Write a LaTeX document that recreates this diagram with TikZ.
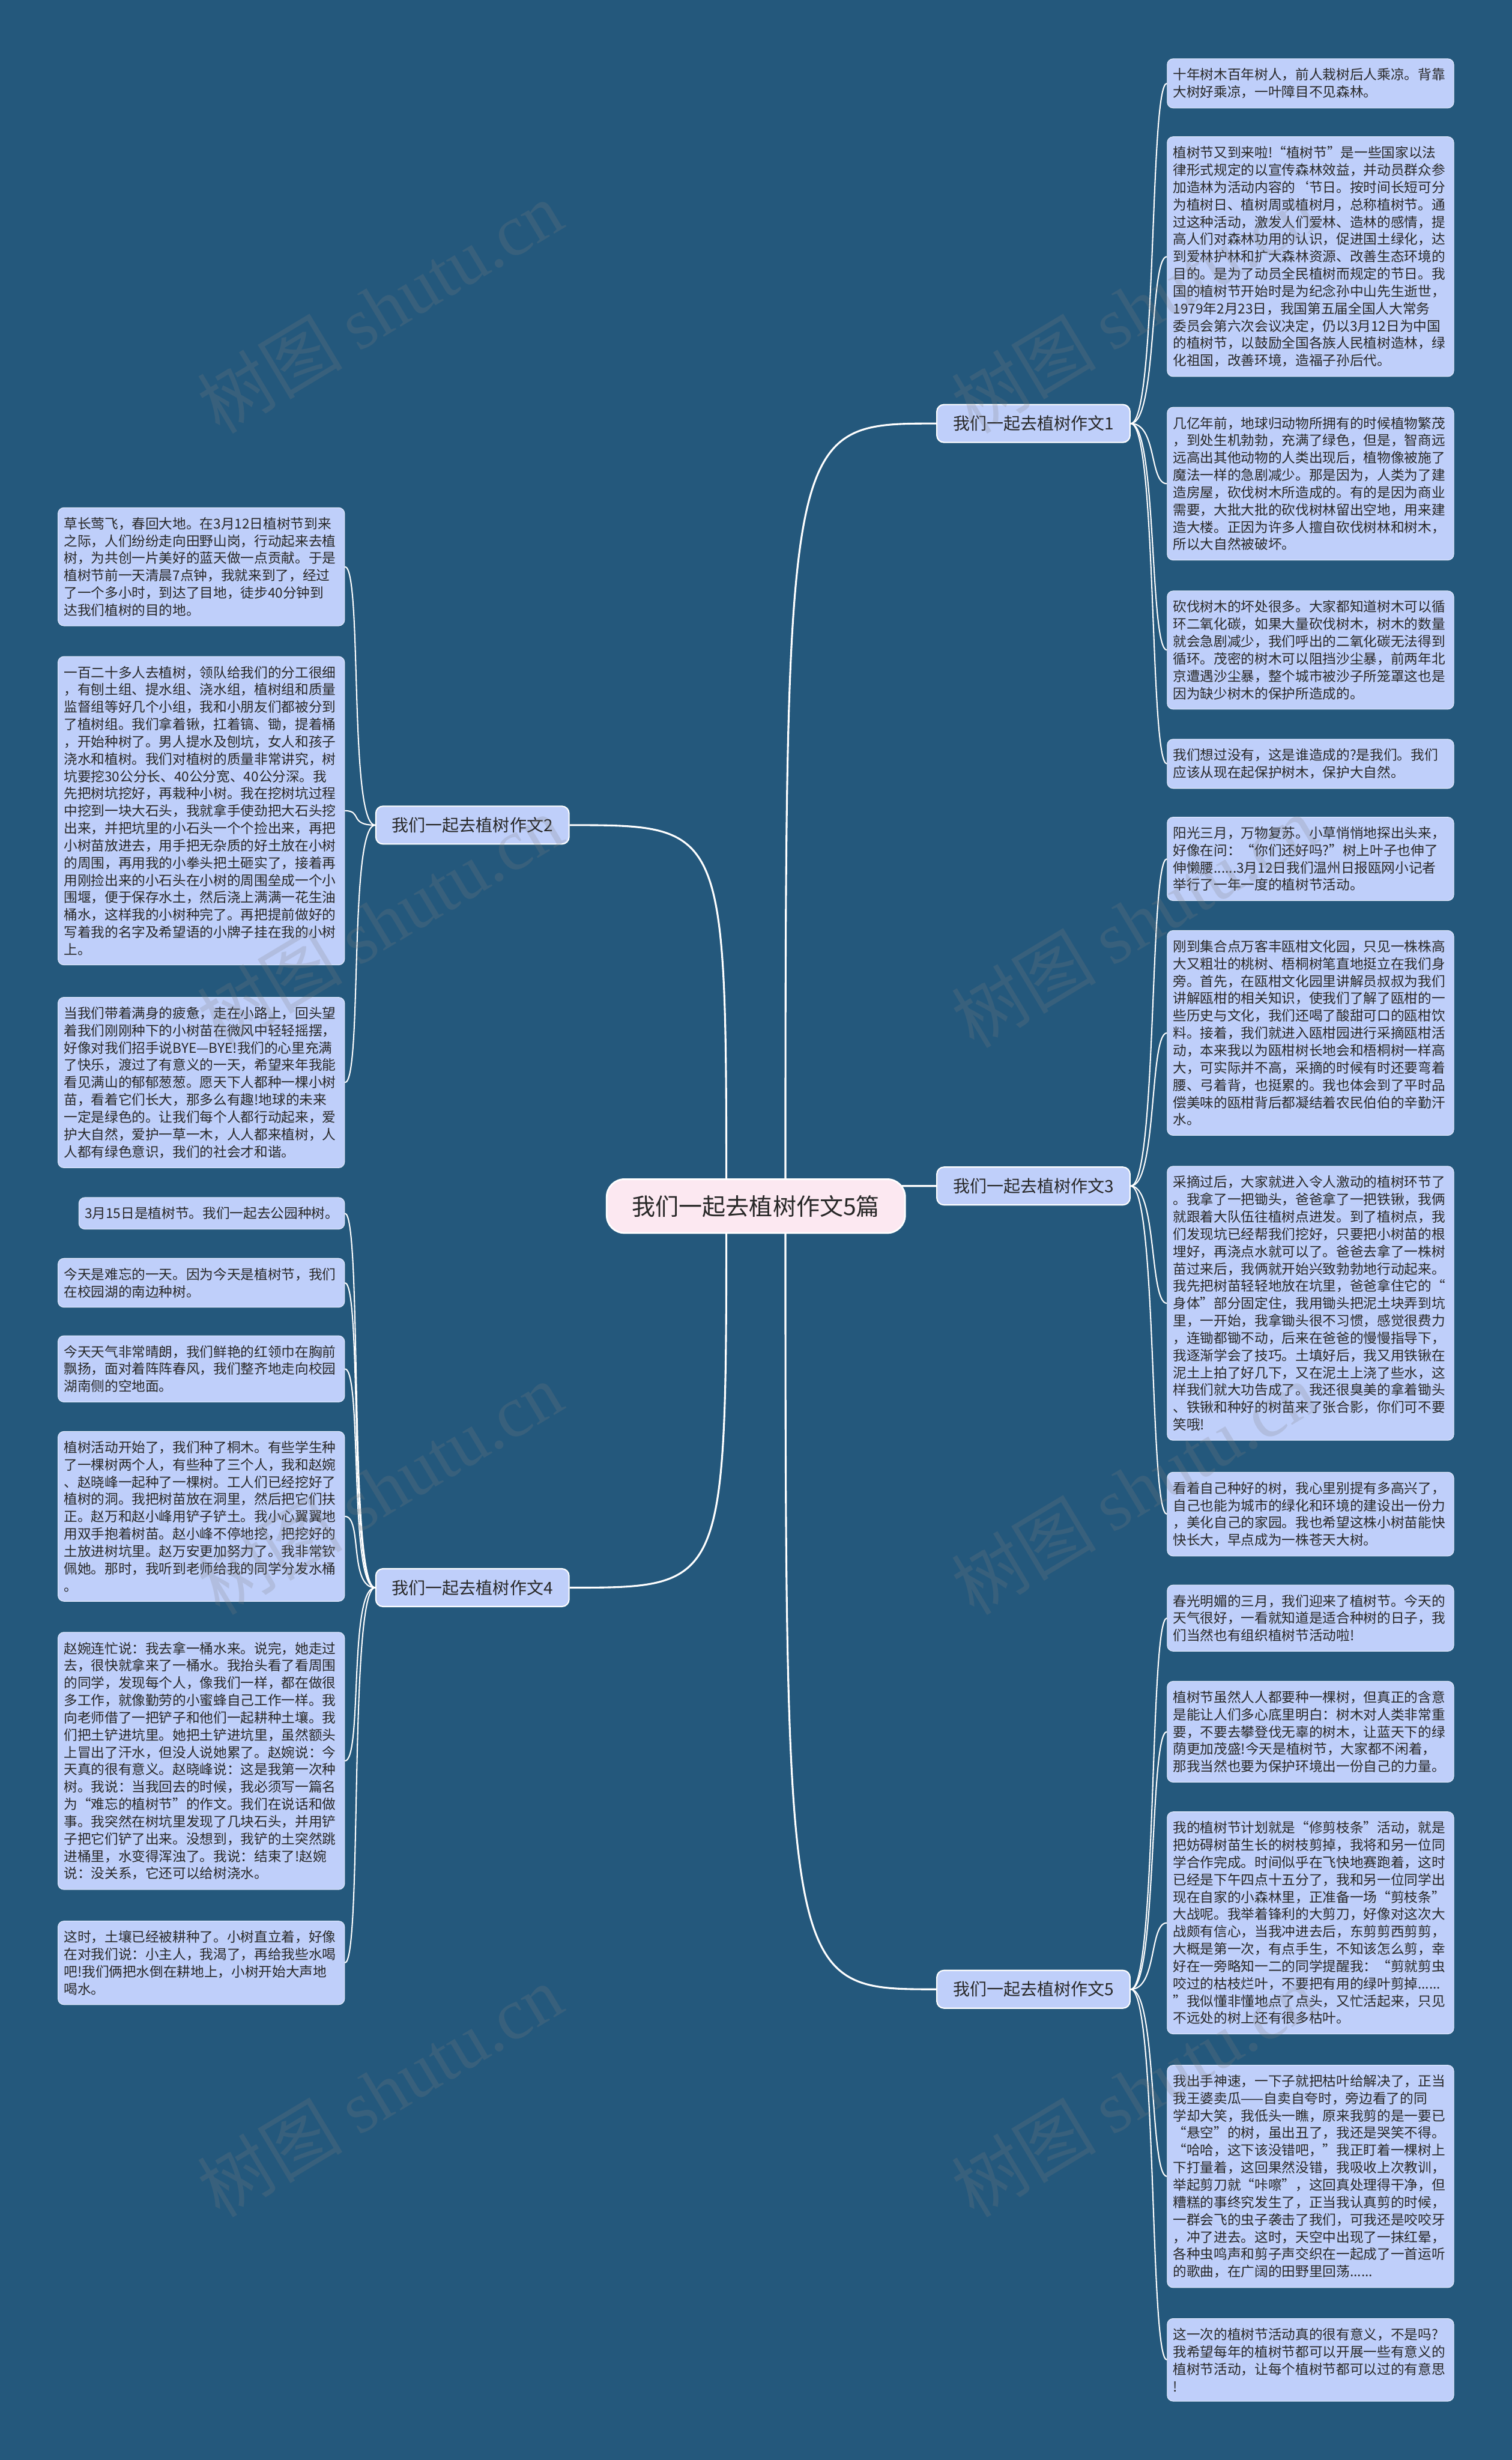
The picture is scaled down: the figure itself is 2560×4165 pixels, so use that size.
\documentclass[tikz,border=0pt]{standalone}
\usepackage{fontspec}
\setmainfont{Noto Sans CJK SC}
\newfontfamily\wmserif{Liberation Serif}
\usetikzlibrary{backgrounds}

\definecolor{bgblue}{RGB}{36,88,124}
\definecolor{leafblue}{RGB}{191,207,250}
\definecolor{rootpink}{RGB}{252,232,241}
\definecolor{inktext}{RGB}{40,40,40}

\begin{document}
\begin{tikzpicture}[x=0.01cm,y=-0.01cm,
    leaf/.style={draw=white!60!leafblue,line width=0.3pt,fill=leafblue,rounded corners=0.1cm,
      text=inktext,align=left,text width=4.65cm,inner xsep=0.1cm,inner ysep=0.16cm,
      font=\fontsize{6.55}{8.34}\selectfont},
    shortleaf/.style={leaf,text width=,align=left},
    branch/.style={draw=white,line width=0.6pt,fill=leafblue,rounded corners=0.12cm,
      text=inktext,minimum width=3.27cm,minimum height=0.64cm,inner sep=0pt,
      font=\fontsize{8.1}{9}\selectfont},
    root/.style={draw=white,line width=0.8pt,fill=rootpink,rounded corners=0.3cm,
      text=inktext,minimum width=5.05cm,minimum height=0.91cm,inner sep=0pt,
      font=\fontsize{11.3}{12}\selectfont},
    trunk/.style={white,line width=0.9pt},
    twig/.style={white,line width=0.6pt},
    wmark/.style={gray,opacity=0.22,rotate=31,font=\fontsize{35}{38}\selectfont}]

	% centre and the five essays
	\node[root] (root) at (1280,2042) {我们一起去植树作文5篇};
	\node[branch] (e1) at (1750,717) {我们一起去植树作文1};
	\node[branch] (e2) at (800,1397) {我们一起去植树作文2};
	\node[branch] (e3) at (1750,2008) {我们一起去植树作文3};
	\node[branch] (e4) at (800,2688) {我们一起去植树作文4};
	\node[branch] (e5) at (1750,3368) {我们一起去植树作文5};
	\coordinate (rootR) at ([xshift=0.5cm]root.center);
	\coordinate (rootL) at ([xshift=-0.5cm]root.center);

	% essay 1
	\node[leaf,anchor=north west] (e1a) at (1976,99) {十年树木百年树人，前人栽树后人乘凉。背靠\\大树好乘凉，一叶障目不见森林。};
	\node[leaf,anchor=north west] (e1b) at (1976,231) {植树节又到来啦!“植树节”是一些国家以法\\律形式规定的以宣传森林效益，并动员群众参\\加造林为活动内容的\symbol{96}节日。按时间长短可分\\为植树日、植树周或植树月，总称植树节。通\\过这种活动，激发人们爱林、造林的感情，提\\高人们对森林功用的认识，促进国土绿化，达\\到爱林护林和扩大森林资源、改善生态环境的\\目的。是为了动员全民植树而规定的节日。我\\国的植树节开始时是为纪念孙中山先生逝世，\\1979年2月23日，我国第五届全国人大常务\\委员会第六次会议决定，仍以3月12日为中国\\的植树节，以鼓励全国各族人民植树造林，绿\\化祖国，改善环境，造福子孙后代。};
	\node[leaf,anchor=north west] (e1c) at (1976,689) {几亿年前，地球归动物所拥有的时候植物繁茂\\，到处生机勃勃，充满了绿色，但是，智商远\\远高出其他动物的人类出现后，植物像被施了\\魔法一样的急剧减少。那是因为，人类为了建\\造房屋，砍伐树木所造成的。有的是因为商业\\需要，大批大批的砍伐树林留出空地，用来建\\造大楼。正因为许多人擅自砍伐树林和树木，\\所以大自然被破坏。};
	\node[leaf,anchor=north west] (e1d) at (1976,1000) {砍伐树木的坏处很多。大家都知道树木可以循\\环二氧化碳，如果大量砍伐树木，树木的数量\\就会急剧减少，我们呼出的二氧化碳无法得到\\循环。茂密的树木可以阻挡沙尘暴，前两年北\\京遭遇沙尘暴，整个城市被沙子所笼罩这也是\\因为缺少树木的保护所造成的。};
	\node[leaf,anchor=north west] (e1e) at (1976,1251) {我们想过没有，这是谁造成的?是我们。我们\\应该从现在起保护树木，保护大自然。};

	% essay 2
	\node[leaf,anchor=north east] (e2a) at (584,859) {草长莺飞，春回大地。在3月12日植树节到来\\之际，人们纷纷走向田野山岗，行动起来去植\\树，为共创一片美好的蓝天做一点贡献。于是\\植树节前一天清晨7点钟，我就来到了，经过\\了一个多小时，到达了目地，徒步40分钟到\\达我们植树的目的地。};
	\node[leaf,anchor=north east] (e2b) at (584,1111) {一百二十多人去植树，领队给我们的分工很细\\，有刨土组、提水组、浇水组，植树组和质量\\监督组等好几个小组，我和小朋友们都被分到\\了植树组。我们拿着锹，扛着镐、锄，提着桶\\，开始种树了。男人提水及刨坑，女人和孩子\\浇水和植树。我们对植树的质量非常讲究，树\\坑要挖30公分长、40公分宽、40公分深。我\\先把树坑挖好，再栽种小树。我在挖树坑过程\\中挖到一块大石头，我就拿手使劲把大石头挖\\出来，并把坑里的小石头一个个捡出来，再把\\小树苗放进去，用手把无杂质的好土放在小树\\的周围，再用我的小拳头把土砸实了，接着再\\用刚捡出来的小石头在小树的周围垒成一个小\\围堰，便于保存水土，然后浇上满满一花生油\\桶水，这样我的小树种完了。再把提前做好的\\写着我的名字及希望语的小牌子挂在我的小树\\上。};
	\node[leaf,anchor=north east] (e2c) at (584,1688) {当我们带着满身的疲惫，走在小路上，回头望\\着我们刚刚种下的小树苗在微风中轻轻摇摆，\\好像对我们招手说BYE—BYE!我们的心里充满\\了快乐，渡过了有意义的一天，希望来年我能\\看见满山的郁郁葱葱。愿天下人都种一棵小树\\苗，看着它们长大，那多么有趣!地球的未来\\一定是绿色的。让我们每个人都行动起来，爱\\护大自然，爱护一草一木，人人都来植树，人\\人都有绿色意识，我们的社会才和谐。};

	% essay 3
	\node[leaf,anchor=north west] (e3a) at (1976,1383) {阳光三月，万物复苏。小草悄悄地探出头来，\\好像在问：“你们还好吗?”树上叶子也伸了\\伸懒腰......3月12日我们温州日报瓯网小记者\\举行了一年一度的植树节活动。};
	\node[leaf,anchor=north west] (e3b) at (1976,1575) {刚到集合点万客丰瓯柑文化园，只见一株株高\\大又粗壮的桃树、梧桐树笔直地挺立在我们身\\旁。首先，在瓯柑文化园里讲解员叔叔为我们\\讲解瓯柑的相关知识，使我们了解了瓯柑的一\\些历史与文化，我们还喝了酸甜可口的瓯柑饮\\料。接着，我们就进入瓯柑园进行采摘瓯柑活\\动，本来我以为瓯柑树长地会和梧桐树一样高\\大，可实际并不高，采摘的时候有时还要弯着\\腰、弓着背，也挺累的。我也体会到了平时品\\偿美味的瓯柑背后都凝结着农民伯伯的辛勤汗\\水。};
	\node[leaf,anchor=north west] (e3c) at (1976,1974) {采摘过后，大家就进入令人激动的植树环节了\\。我拿了一把锄头，爸爸拿了一把铁锹，我俩\\就跟着大队伍往植树点进发。到了植树点，我\\们发现坑已经帮我们挖好，只要把小树苗的根\\埋好，再浇点水就可以了。爸爸去拿了一株树\\苗过来后，我俩就开始兴致勃勃地行动起来。\\我先把树苗轻轻地放在坑里，爸爸拿住它的“\\身体”部分固定住，我用锄头把泥土块弄到坑\\里，一开始，我拿锄头很不习惯，感觉很费力\\，连锄都锄不动，后来在爸爸的慢慢指导下，\\我逐渐学会了技巧。土填好后，我又用铁锹在\\泥土上拍了好几下，又在泥土上浇了些水，这\\样我们就大功告成了。我还很臭美的拿着锄头\\、铁锹和种好的树苗来了张合影，你们可不要\\笑哦!};
	\node[leaf,anchor=north west] (e3d) at (1976,2492) {看着自己种好的树，我心里别提有多高兴了，\\自己也能为城市的绿化和环境的建设出一份力\\，美化自己的家园。我也希望这株小树苗能快\\快长大，早点成为一株苍天大树。};

	% essay 4
	\node[shortleaf,anchor=north east] (e4a) at (584,2027) {3月15日是植树节。我们一起去公园种树。};
	\node[leaf,anchor=north east] (e4b) at (584,2130) {今天是难忘的一天。因为今天是植树节，我们\\在校园湖的南边种树。};
	\node[leaf,anchor=north east] (e4c) at (584,2261) {今天天气非常晴朗，我们鲜艳的红领巾在胸前\\飘扬，面对着阵阵春风，我们整齐地走向校园\\湖南侧的空地面。};
	\node[leaf,anchor=north east] (e4d) at (584,2423) {植树活动开始了，我们种了桐木。有些学生种\\了一棵树两个人，有些种了三个人，我和赵婉\\、赵晓峰一起种了一棵树。工人们已经挖好了\\植树的洞。我把树苗放在洞里，然后把它们扶\\正。赵万和赵小峰用铲子铲土。我小心翼翼地\\用双手抱着树苗。赵小峰不停地挖，把挖好的\\土放进树坑里。赵万安更加努力了。我非常钦\\佩她。那时，我听到老师给我的同学分发水桶\\。};
	\node[leaf,anchor=north east] (e4e) at (584,2763) {赵婉连忙说：我去拿一桶水来。说完，她走过\\去，很快就拿来了一桶水。我抬头看了看周围\\的同学，发现每个人，像我们一样，都在做很\\多工作，就像勤劳的小蜜蜂自己工作一样。我\\向老师借了一把铲子和他们一起耕种土壤。我\\们把土铲进坑里。她把土铲进坑里，虽然额头\\上冒出了汗水，但没人说她累了。赵婉说：今\\天真的很有意义。赵晓峰说：这是我第一次种\\树。我说：当我回去的时候，我必须写一篇名\\为“难忘的植树节”的作文。我们在说话和做\\事。我突然在树坑里发现了几块石头，并用铲\\子把它们铲了出来。没想到，我铲的土突然跳\\进桶里，水变得浑浊了。我说：结束了!赵婉\\说：没关系，它还可以给树浇水。};
	\node[leaf,anchor=north east] (e4f) at (584,3252) {这时，土壤已经被耕种了。小树直立着，好像\\在对我们说：小主人，我渴了，再给我些水喝\\吧!我们俩把水倒在耕地上，小树开始大声地\\喝水。};

	% essay 5
	\node[leaf,anchor=north west] (e5a) at (1976,2683) {春光明媚的三月，我们迎来了植树节。今天的\\天气很好，一看就知道是适合种树的日子，我\\们当然也有组织植树节活动啦!};
	\node[leaf,anchor=north west] (e5b) at (1976,2846) {植树节虽然人人都要种一棵树，但真正的含意\\是能让人们多心底里明白：树木对人类非常重\\要，不要去攀登伐无辜的树木，让蓝天下的绿\\荫更加茂盛!今天是植树节，大家都不闲着，\\那我当然也要为保护环境出一份自己的力量。};
	\node[leaf,anchor=north west] (e5c) at (1976,3067) {我的植树节计划就是“修剪枝条”活动，就是\\把妨碍树苗生长的树枝剪掉，我将和另一位同\\学合作完成。时间似乎在飞快地赛跑着，这时\\已经是下午四点十五分了，我和另一位同学出\\现在自家的小森林里，正准备一场“剪枝条”\\大战呢。我举着锋利的大剪刀，好像对这次大\\战颇有信心，当我冲进去后，东剪剪西剪剪，\\大概是第一次，有点手生，不知该怎么剪，幸\\好在一旁略知一二的同学提醒我：“剪就剪虫\\咬过的枯枝烂叶，不要把有用的绿叶剪掉......\\”我似懂非懂地点了点头，又忙活起来，只见\\不远处的树上还有很多枯叶。};
	\node[leaf,anchor=north west] (e5d) at (1976,3496) {我出手神速，一下子就把枯叶给解决了，正当\\我王婆卖瓜——自卖自夸时，旁边看了的同\\学却大笑，我低头一瞧，原来我剪的是一要已\\“悬空”的树，虽出丑了，我还是哭笑不得。\\“哈哈，这下该没错吧，”我正盯着一棵树上\\下打量着，这回果然没错，我吸收上次教训，\\举起剪刀就“咔嚓”，这回真处理得干净，但\\糟糕的事终究发生了，正当我认真剪的时候，\\一群会飞的虫子袭击了我们，可我还是咬咬牙\\，冲了进去。这时，天空中出现了一抹红晕，\\各种虫鸣声和剪子声交织在一起成了一首运听\\的歌曲，在广阔的田野里回荡......};
	\node[leaf,anchor=north west] (e5e) at (1976,3925) {这一次的植树节活动真的很有意义，不是吗?\\我希望每年的植树节都可以开展一些有意义的\\植树节活动，让每个植树节都可以过的有意思\\!};

	\begin{scope}[on background layer]
		\fill[bgblue] (0,0) rectangle (2560,4165);
		% root to essays
		\draw[trunk] (rootR) .. controls (rootR |- e1.west) .. (e1.west);
		\draw[trunk] (rootR) .. controls (rootR |- e3.west) .. (e3.west);
		\draw[trunk] (rootR) .. controls (rootR |- e5.west) .. (e5.west);
		\draw[trunk] (rootL) .. controls (rootL |- e2.east) .. (e2.east);
		\draw[trunk] (rootL) .. controls (rootL |- e4.east) .. (e4.east);
		% essays to paragraphs
		\foreach \p in {e1a,e1b,e1c,e1d,e1e}
			\draw[twig] (e1.east) .. controls +(45,0) and +(-30,0) .. (\p.west);
		\foreach \p in {e3a,e3b,e3c,e3d}
			\draw[twig] (e3.east) .. controls +(45,0) and +(-30,0) .. (\p.west);
		\foreach \p in {e5a,e5b,e5c,e5d,e5e}
			\draw[twig] (e5.east) .. controls +(45,0) and +(-30,0) .. (\p.west);
		\foreach \p in {e2a,e2b,e2c}
			\draw[twig] (e2.west) .. controls +(-45,0) and +(30,0) .. (\p.east);
		\foreach \p in {e4a,e4b,e4c,e4d,e4e,e4f}
			\draw[twig] (e4.west) .. controls +(-45,0) and +(30,0) .. (\p.east);
	\end{scope}

	% watermark
	\foreach \wx in {643,1920}
		\foreach \wy in {520,1560,2520,3540}
			\node[wmark] (wm\wx\wy) at (\wx,\wy) {树图 {\wmserif shutu.cn}};
\end{tikzpicture}
\end{document}
